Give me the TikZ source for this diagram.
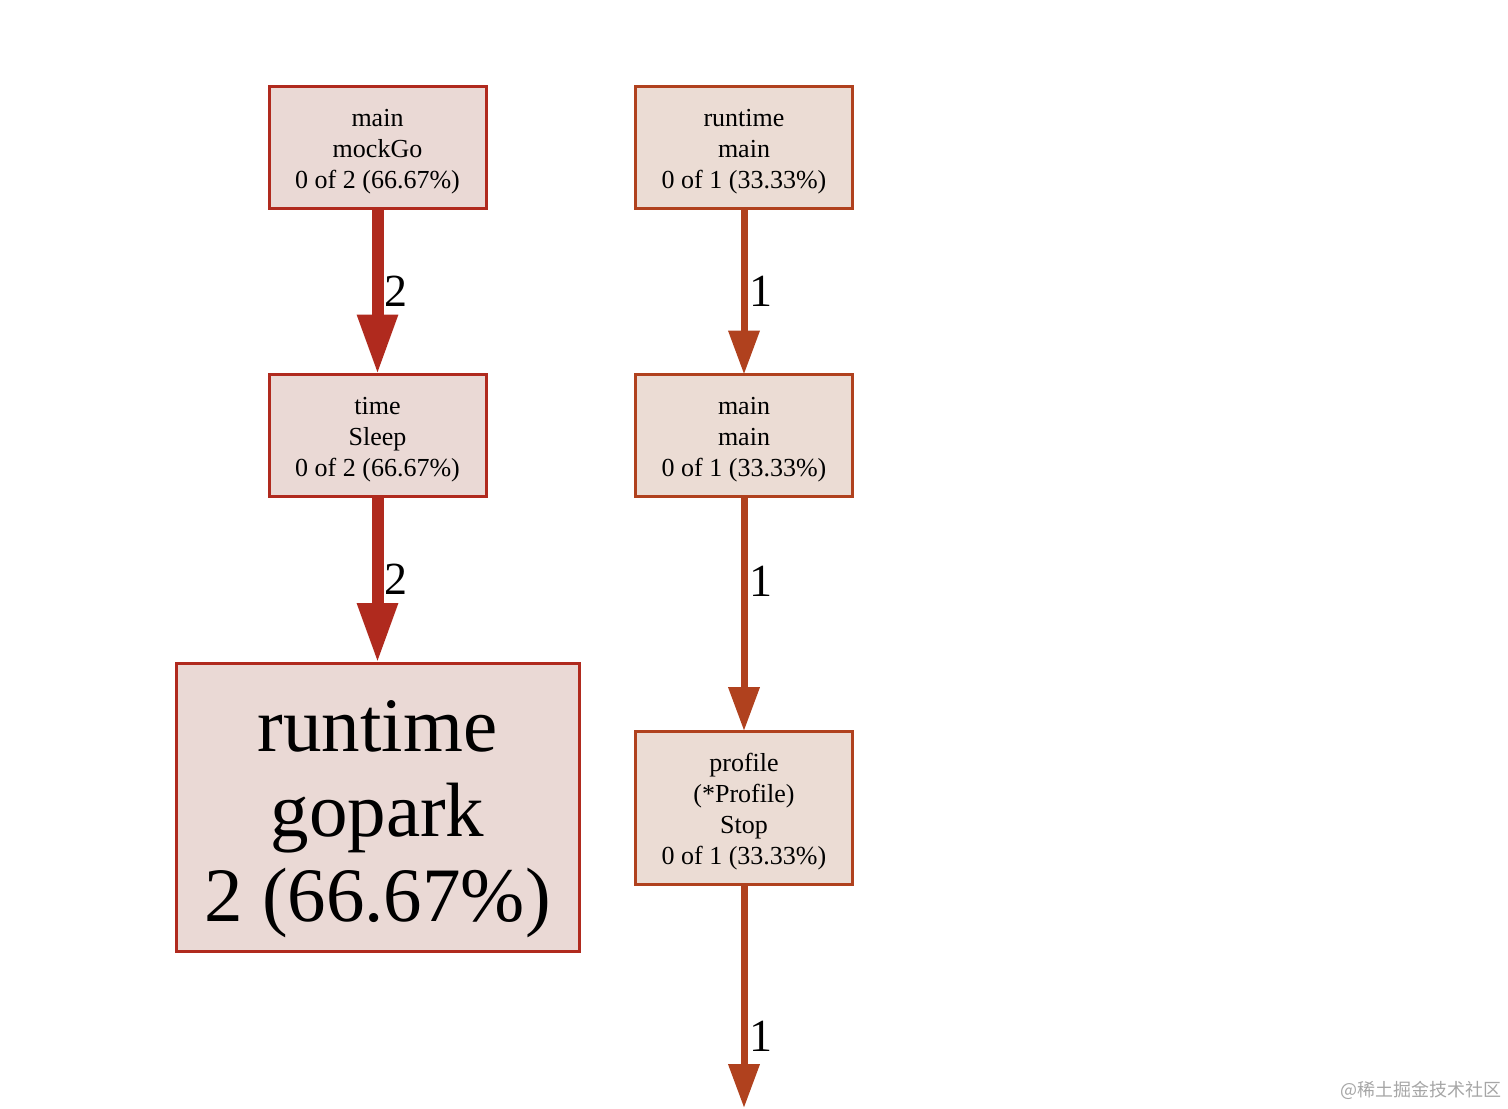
\documentclass[tikz,border=0pt]{standalone}
\usepackage{fontspec}
\setmainfont{Liberation Serif}
\newfontfamily\cjk{Noto Sans CJK SC}
\usetikzlibrary{arrows.meta}
\definecolor{hot}{HTML}{B02A1E}
\definecolor{warm}{HTML}{B0411E}
\definecolor{hotfill}{HTML}{EAD9D5}
\definecolor{warmfill}{HTML}{EBDCD4}
\newcommand\smstrut{\rule{0pt}{13pt}}
\newcommand\bigstrut{\rule{0pt}{38pt}}
\begin{document}
\begin{tikzpicture}[x=0.5pt,y=-0.5pt,
  fn/.style={draw, line width=1.5pt, align=center, inner sep=0pt, outer sep=0pt,
    font=\fontsize{13}{15.5}\selectfont, minimum width=108.5pt, minimum height=61pt},
  hotbox/.style={fn, draw=hot, fill=hotfill},
  warmbox/.style={fn, draw=warm, fill=warmfill},
  hotedge/.style={draw=hot, line width=6pt, -{Triangle[length=30pt,width=19pt]}},
  warmedge/.style={draw=warm, line width=3.5pt, -{Triangle[length=22pt,width=15pt]}},
  elab/.style={font=\fontsize{23}{25}\selectfont, inner sep=0pt, anchor=west}
]
\useasboundingbox (0,0) rectangle (1508,1108);
\node[hotbox] (mock) at (377.5,147) {\smstrut main\\mockGo\\0 of 2 (66.67\%)};
\node[warmbox] (rtmain) at (744,147) {\smstrut runtime\\main\\0 of 1 (33.33\%)};
\node[hotbox] (sleep) at (377.5,435.5) {\smstrut time\\Sleep\\0 of 2 (66.67\%)};
\node[warmbox] (mainmain) at (744,435.5) {\smstrut main\\main\\0 of 1 (33.33\%)};
\node[hotbox, minimum width=201.5pt, minimum height=144pt,
  font=\fontsize{38.5}{42.5}\selectfont] (gopark) at (377.5,807) {\bigstrut runtime\\gopark\\2 (66.67\%)};
\node[warmbox, minimum height=76.5pt] (stop) at (744,807.5) {\smstrut profile\\(*Profile)\\Stop\\0 of 1 (33.33\%)};
\coordinate (out) at (744,1108);

\draw[hotedge] (mock.south) -- node[elab, pos=0.5, xshift=0.5pt] {2} (sleep.north);
\draw[hotedge] (sleep.south) -- node[elab, pos=0.5, xshift=0.5pt] {2} (gopark.north);
\draw[warmedge] (rtmain.south) -- node[elab, pos=0.5, xshift=1pt] {1} (mainmain.north);
\draw[warmedge] (mainmain.south) -- node[elab, pos=0.36, xshift=1pt] {1} (stop.north);
\draw[warmedge] (stop.south) -- node[elab, pos=0.68, xshift=1pt] {1} (out);

\node[font=\cjk\fontsize{9}{10}\selectfont, text=black!35, inner sep=0pt] (wm) at (1421,1090) {@稀土掘金技术社区};
\end{tikzpicture}
\end{document}
